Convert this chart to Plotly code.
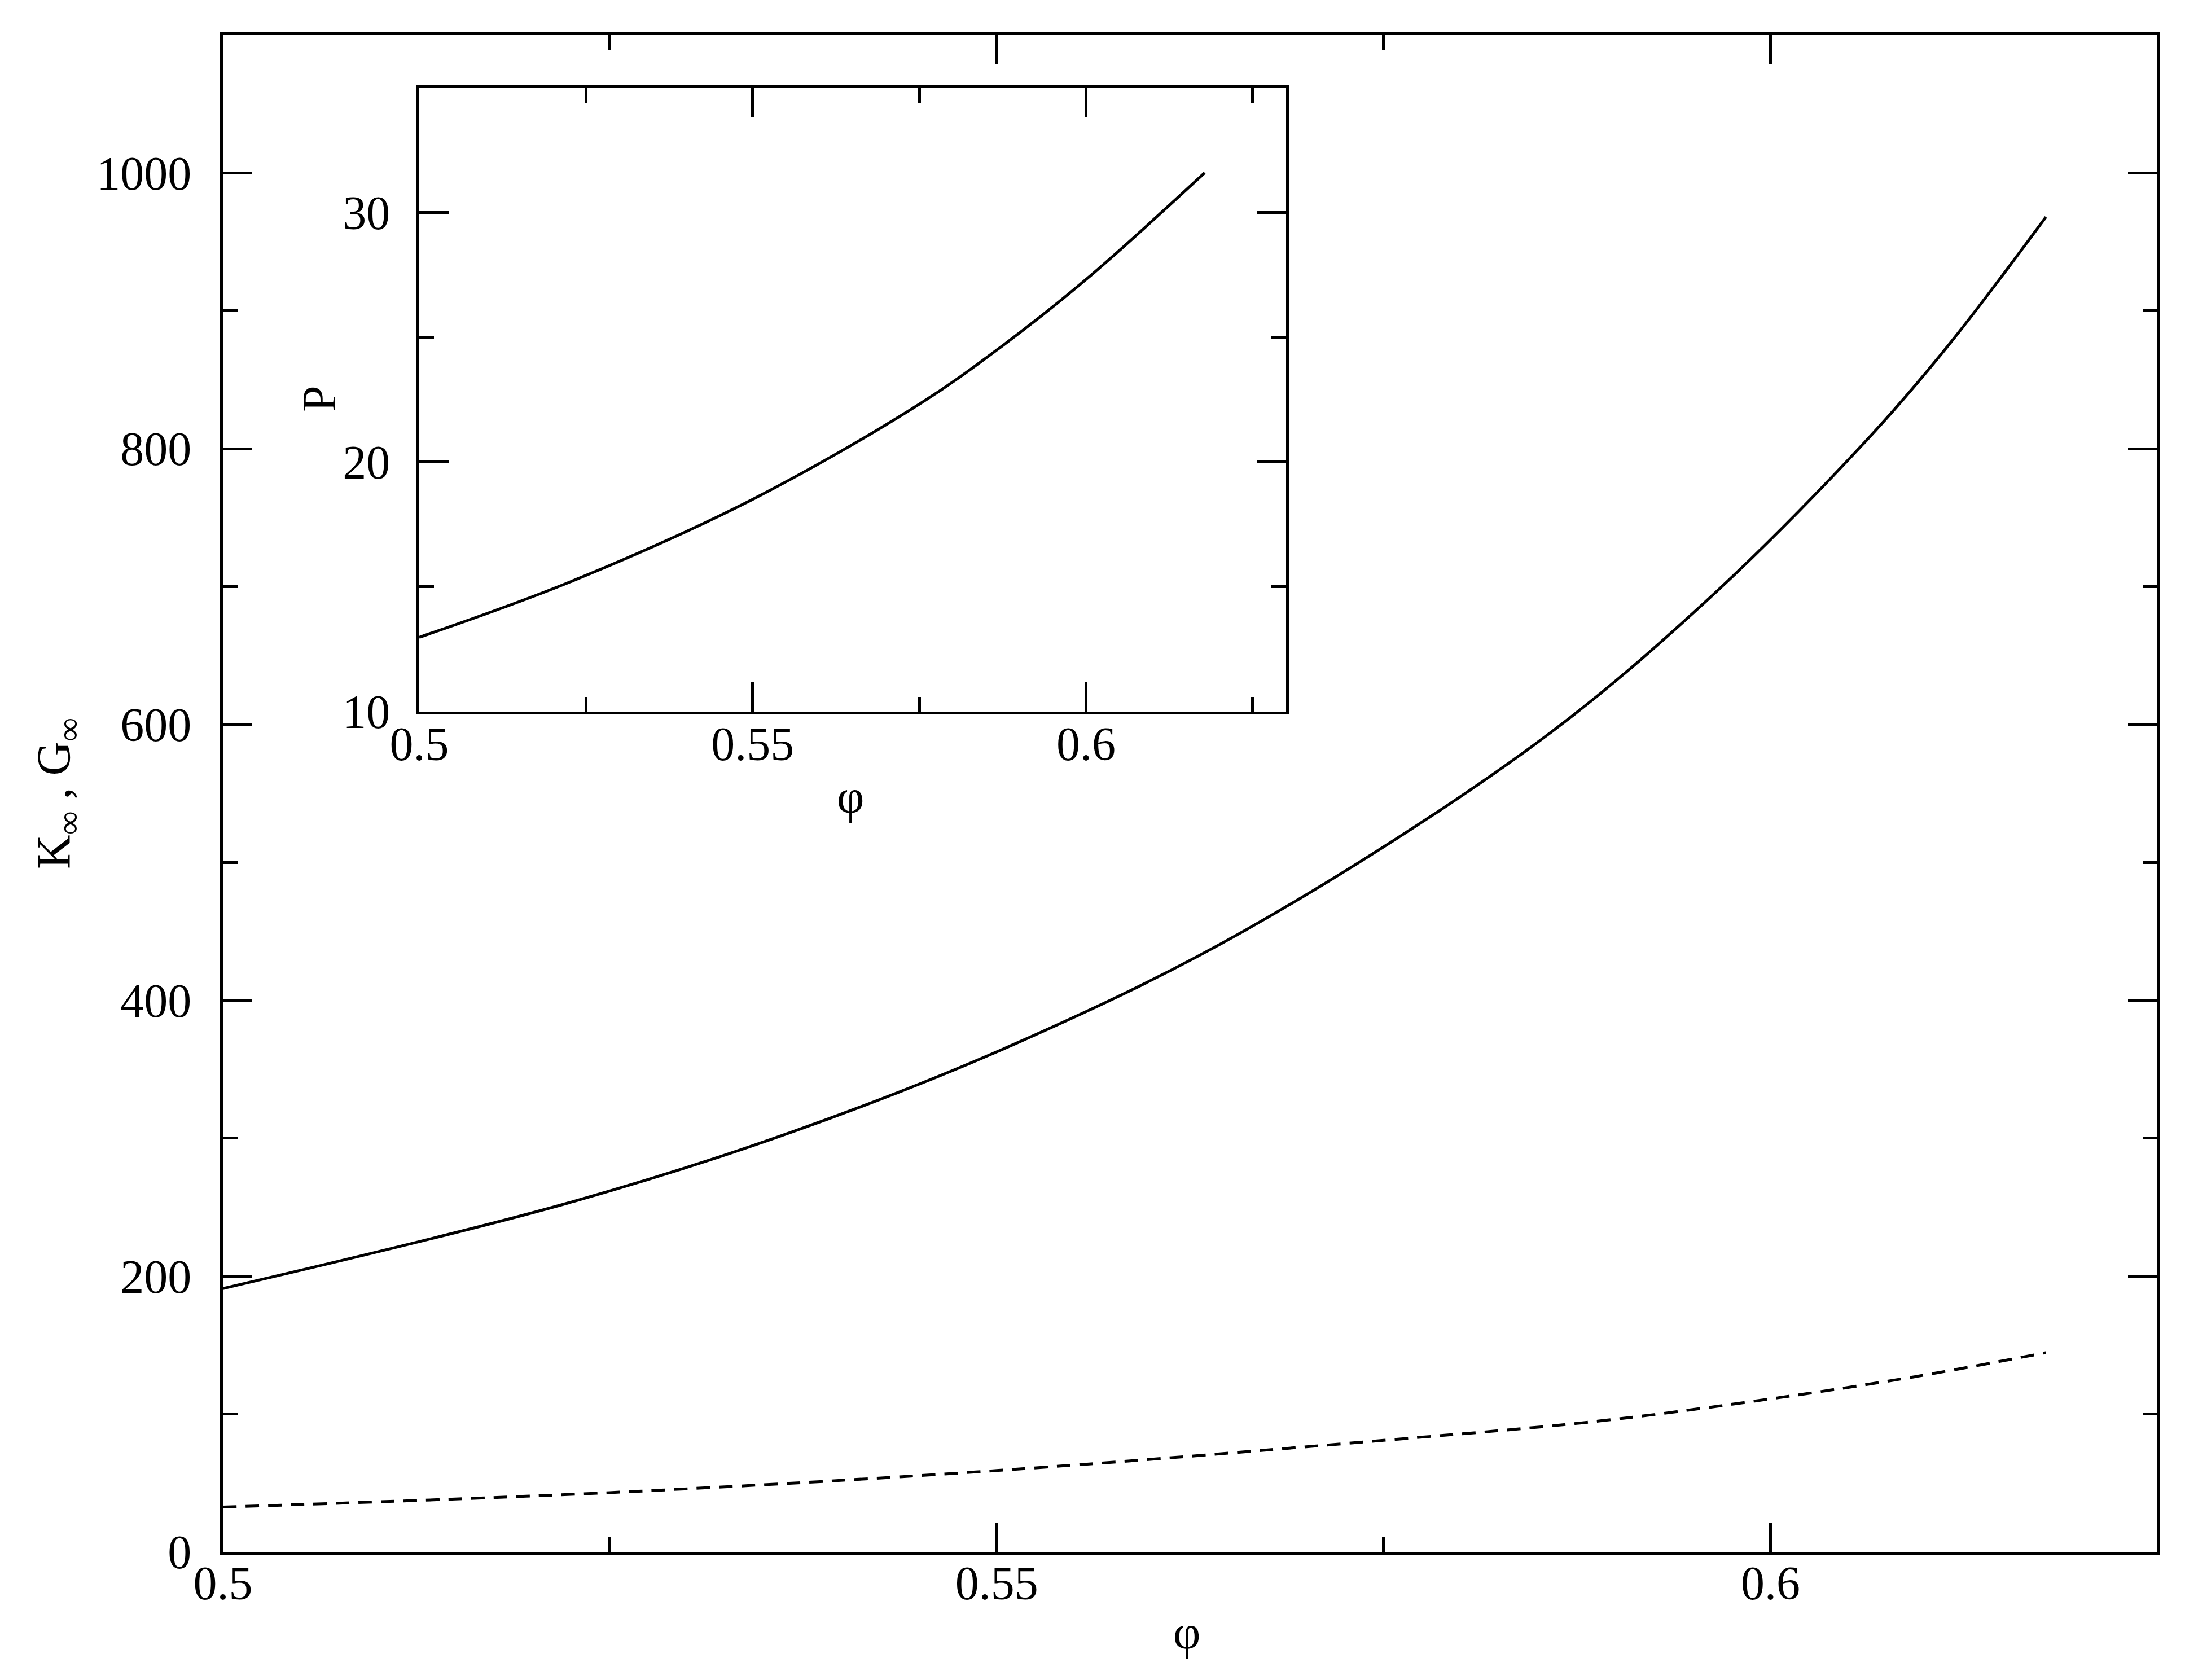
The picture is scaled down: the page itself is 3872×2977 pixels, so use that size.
import plotly.graph_objects as go

# ---- data ----
phi_K = [0.500, 0.5223, 0.5369, 0.5515, 0.5661, 0.5847, 0.5957, 0.6062, 0.6115, 0.6178]
K_inf = [191, 253, 305, 370, 451, 585, 688, 806, 875, 968]

phi_G = [0.500, 0.5250, 0.550, 0.575, 0.589, 0.600, 0.6093, 0.6178]
G_inf = [32.5, 43.0, 59.0, 80.9, 95.0, 111, 127, 144.5]

phi_P = [0.500, 0.5226, 0.5499, 0.575, 0.5869, 0.5999, 0.6178]
P_val = [12.97, 15.19, 18.49, 22.32, 24.55, 27.3, 31.6]

main_xticks = [0.5, 0.55, 0.6]
main_xtext = ["0.5", "0.55", "0.6"]
main_yticks = [0, 200, 400, 600, 800, 1000]
main_ytext = ["0", "200", "400", "600", "800", "1000"]
inset_xticks = [0.5, 0.55, 0.6]
inset_xtext = ["0.5", "0.55", "0.6"]
inset_yticks = [10, 20, 30]
inset_ytext = ["10", "20", "30"]

FONT = "Liberation Serif, Times New Roman, serif"
W, H = 3872, 2977
L, R, T, B = 387, 57, 54, 235
TICKFS = 84
TITLEFS = 84
LW = 5
CW = 5

fig = go.Figure()
fig.add_trace(go.Scatter(x=phi_K, y=K_inf, mode="lines", line=dict(color="black", width=CW, shape="spline"),
                         xaxis="x", yaxis="y", showlegend=False))
fig.add_trace(go.Scatter(x=phi_G, y=G_inf, mode="lines",
                         line=dict(color="black", width=CW, dash="24px,16px", shape="spline"),
                         xaxis="x", yaxis="y", showlegend=False))
fig.add_trace(go.Scatter(x=phi_P, y=P_val, mode="lines", line=dict(color="black", width=CW, shape="spline"),
                         xaxis="x2", yaxis="y2", showlegend=False))


def axis(rng, tv, tt, minor_dtick, minor_t0, domain=None, anchor=None, standoff=0):
    d = dict(range=rng, tickvals=tv, ticktext=tt, ticks="inside", ticklen=52, tickwidth=LW,
             tickcolor="black", showline=True, linecolor="black", linewidth=LW, mirror="allticks",
             showgrid=False, zeroline=False,
             tickfont=dict(family=FONT, size=TICKFS, color="black"),
             ticklabelstandoff=standoff,
             minor=dict(ticks="inside", ticklen=26, tickwidth=LW, tickcolor="black",
                        dtick=minor_dtick, tick0=minor_t0, showgrid=False))
    if domain is not None:
        d["domain"] = domain
    if anchor is not None:
        d["anchor"] = anchor
    return d


pw = W - L - R
ph = H - T - B
ix0 = (735 - L) / pw
ix1 = (2271 - L) / pw
iy0 = (H - B - 1252.5) / ph
iy1 = (H - B - 148) / ph

fig.update_layout(
    width=W, height=H,
    margin=dict(l=L, r=R, t=T, b=B),
    paper_bgcolor="white", plot_bgcolor="white",
    font=dict(family=FONT, color="black"),
    xaxis=axis([0.5, 0.625], main_xticks, main_xtext, 0.025, 0.5, domain=[0, 1], anchor="y", standoff=-22),
    yaxis=axis([0, 1100], main_yticks, main_ytext, 100, 0, domain=[0, 1], anchor="x", standoff=34),
    xaxis2=axis([0.5, 0.63], inset_xticks, inset_xtext, 0.025, 0.5, domain=[ix0, ix1], anchor="y2", standoff=-19),
    yaxis2=axis([10, 35], inset_yticks, inset_ytext, 5, 10, domain=[iy0, iy1], anchor="x2", standoff=30),
)


def px_x(xp):
    return (xp - L) / pw


def px_y(yp):
    return (H - B - yp) / ph


fig.add_annotation(text="φ", x=px_x(2095), y=px_y(2885), xref="paper", yref="paper",
                   showarrow=False, xanchor="center", yanchor="middle",
                   font=dict(family=FONT, size=TITLEFS, color="black"))
fig.add_annotation(text="K<sub>∞</sub> , G<sub>∞</sub>", x=px_x(94), y=px_y(1398), xref="paper", yref="paper",
                   showarrow=False, xanchor="center", yanchor="middle", textangle=-90,
                   font=dict(family=FONT, size=TITLEFS, color="black"))
fig.add_annotation(text="φ", x=px_x(1499), y=px_y(1403), xref="paper", yref="paper",
                   showarrow=False, xanchor="center", yanchor="middle",
                   font=dict(family=FONT, size=TITLEFS, color="black"))
fig.add_annotation(text="P", x=px_x(558), y=px_y(699), xref="paper", yref="paper",
                   showarrow=False, xanchor="center", yanchor="middle", textangle=-90,
                   font=dict(family=FONT, size=TITLEFS, color="black"))

fig.write_html("out.html")
